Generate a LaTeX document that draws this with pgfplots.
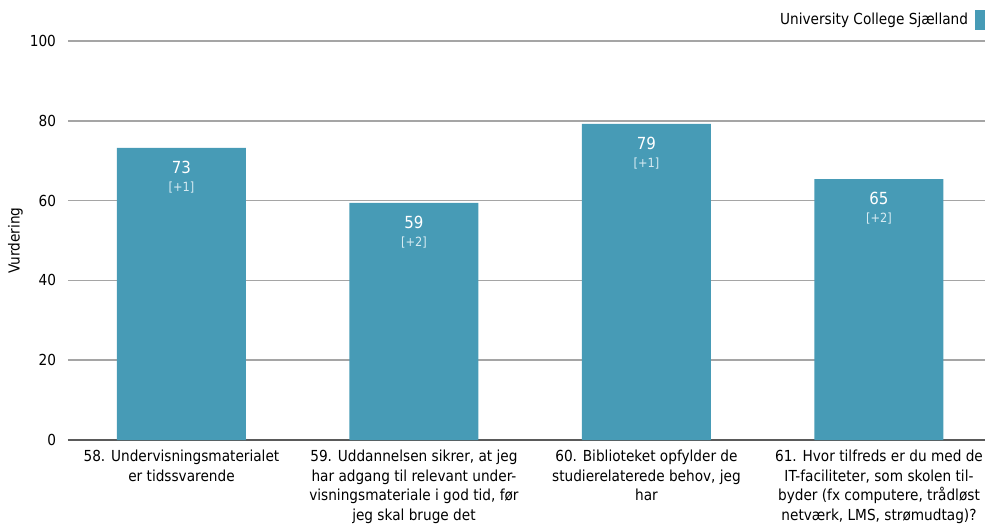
\documentclass[border=0pt]{standalone}
\usepackage{fontspec}
\setmainfont{DejaVu Sans Condensed}
\usepackage{pgfplots}
\usepackage{pgfplotstable}
\pgfplotsset{compat=1.18}
\definecolor{barcol}{RGB}{71,155,182}
\definecolor{gridcol}{RGB}{165,165,165}
\definecolor{axcol}{RGB}{90,90,90}
\definecolor{deltacol}{RGB}{215,235,242}
\pgfplotstableread{
x y val d
0 73.2 73 1
1 59.4 59 2
2 79.2 79 1
3 65.4 65 2
}\datatable
\begin{document}
\begin{tikzpicture}
\path[use as bounding box] (-51pt,-64.5pt) rectangle (687.75pt,330pt);
\begin{axis}[
  at={(0,0)}, anchor=south west,
  scale only axis, width=687.75pt, height=299.25pt,
  xmin=-0.488, xmax=3.456, ymin=0, ymax=100,
  ytick={0,20,...,100},
  xtick={0,1,2,3},
  xticklabels={
    {58. Undervisningsmaterialet\\er tidssvarende},
    {59. Uddannelsen sikrer, at jeg\\har adgang til relevant under-\\visningsmateriale i god tid, før\\jeg skal bruge det},
    {60. Biblioteket opfylder de\\studierelaterede behov, jeg\\har},
    {61. Hvor tilfreds er du med de\\IT-faciliteter, som skolen til-\\byder (fx computere, trådløst\\netværk, LMS, strømudtag)?}},
  xticklabel style={align=center, font=\fontsize{11.4}{14.6}\selectfont, yshift=-4pt},
  yticklabel style={font=\fontsize{11.4}{12}\selectfont, xshift=-5.5pt},
  /pgf/number format/assume math mode=true,
  axis lines*=left,
  y axis line style={draw=none},
  x axis line style={draw=axcol, line width=1pt, -},
  major tick length=0pt,
  ymajorgrids, grid style={gridcol, line width=1.2pt},
  ylabel={Vurdering},
  ylabel style={font=\fontsize{11.4}{12}\selectfont, yshift=-1.5pt},
  ybar, bar width=96.75pt,
  legend plot pos=right,
  legend style={at={(rel axis cs:1,1)}, anchor=east, xshift=4.5pt, yshift=15.75pt, draw=none, inner sep=0pt, font=\fontsize{11.4}{12}\selectfont},
  legend image code/.code={\path (0pt,0pt); \fill[barcol] (3pt,-7.5pt) rectangle (15pt,7.5pt);},
]
\addplot[fill=barcol, draw=none,
  point meta=explicit symbolic,
  visualization depends on=\thisrow{d}\as\delta,
  nodes near coords={\pgfplotspointmeta\\[0pt]{\fontsize{9.5}{10}\selectfont\color{deltacol}[+\pgfmathprintnumber[fixed,precision=0]{\delta}]}},
  every node near coord/.append style={anchor=north, text=white, align=center, font=\fontsize{12.5}{13}\selectfont, yshift=-6.5pt},
] table[x=x, y=y, meta=val] {\datatable};
\addlegendentry{University College Sjælland}
\end{axis}
\end{tikzpicture}
\end{document}
